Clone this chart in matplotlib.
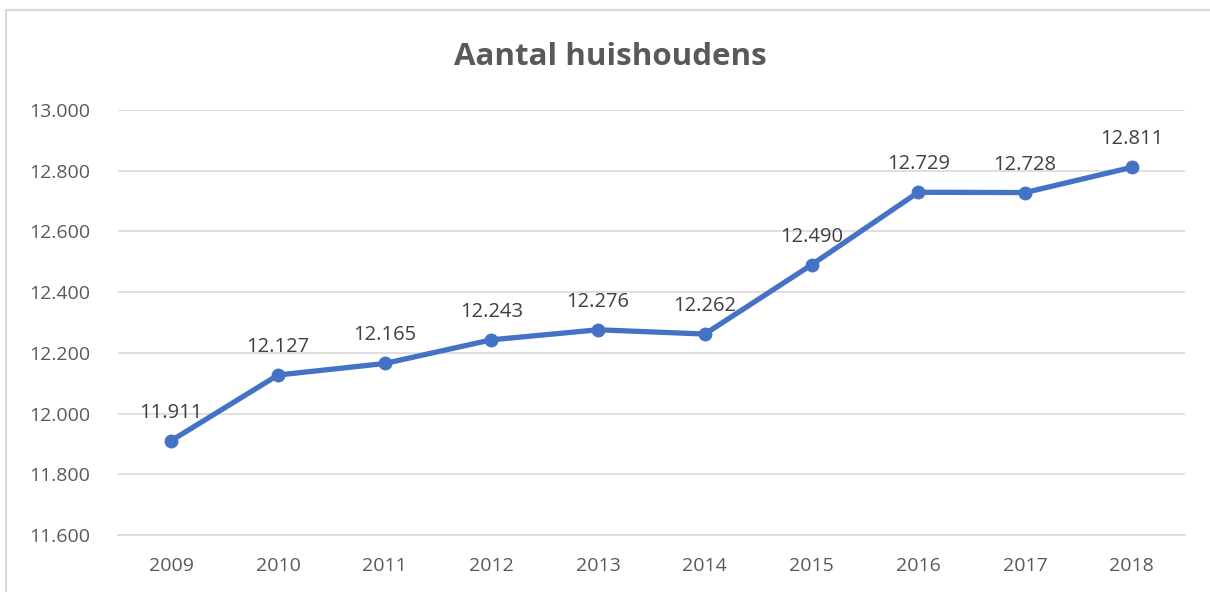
import matplotlib.pyplot as plt
from matplotlib.ticker import FuncFormatter
from matplotlib.lines import Line2D

plt.rcParams['font.family'] = ['Open Sans', 'DejaVu Sans']

# data
years = ['2009', '2010', '2011', '2012', '2013', '2014', '2015', '2016', '2017', '2018']
households = [11911, 12127, 12165, 12243, 12276, 12262, 12490, 12729, 12728, 12811]

blue = '#4472C4'
grey_text = '#595959'
grid_col = '#D9D9D9'


def dotted(v):
    return f'{int(round(v)):,}'.replace(',', '.')


fig = plt.figure(figsize=(12.1, 5.92), dpi=100)
ax = fig.add_axes([118 / 1210, 1 - 535 / 592, 1067 / 1210, 425 / 592])

x = list(range(len(years)))
ax.plot(x, households, color=blue, lw=3.8, marker='o', ms=9, solid_capstyle='round', zorder=3)

for xi, v in zip(x, households):
    ax.annotate(dotted(v), (xi, v), xytext=(0, 13), textcoords='offset points',
                ha='center', va='bottom', fontsize=14.5, color='#404040')

ax.set_xlim(-0.5, len(years) - 0.5)
ax.set_ylim(11600, 13000)
ax.set_yticks(range(11600, 13001, 200))
ax.yaxis.set_major_formatter(FuncFormatter(lambda v, p: dotted(v)))
ax.set_xticks(x)
ax.set_xticklabels(years)

ax.grid(axis='y', color=grid_col, lw=1.2)
ax.set_axisbelow(True)
for s in ['top', 'right', 'left']:
    ax.spines[s].set_visible(False)
ax.spines['bottom'].set_color(grid_col)
ax.spines['bottom'].set_linewidth(1.2)
ax.tick_params(axis='both', length=0, labelsize=14, colors=grey_text)
ax.tick_params(axis='y', pad=20)
ax.tick_params(axis='x', pad=16)

fig.text(610 / 1210, 1 - 57 / 592, 'Aantal huishoudens', ha='center', va='center',
         fontsize=22.5, fontweight='bold', color=grey_text)

# chart border (top and left visible)
fig.add_artist(Line2D([6 / 1210, 1], [1 - 10 / 592, 1 - 10 / 592], color='#D9D9D9', lw=1.5, transform=fig.transFigure))
fig.add_artist(Line2D([6 / 1210, 6 / 1210], [0, 1 - 10 / 592], color='#D9D9D9', lw=1.5, transform=fig.transFigure))

plt.savefig('out.png', dpi=100)
